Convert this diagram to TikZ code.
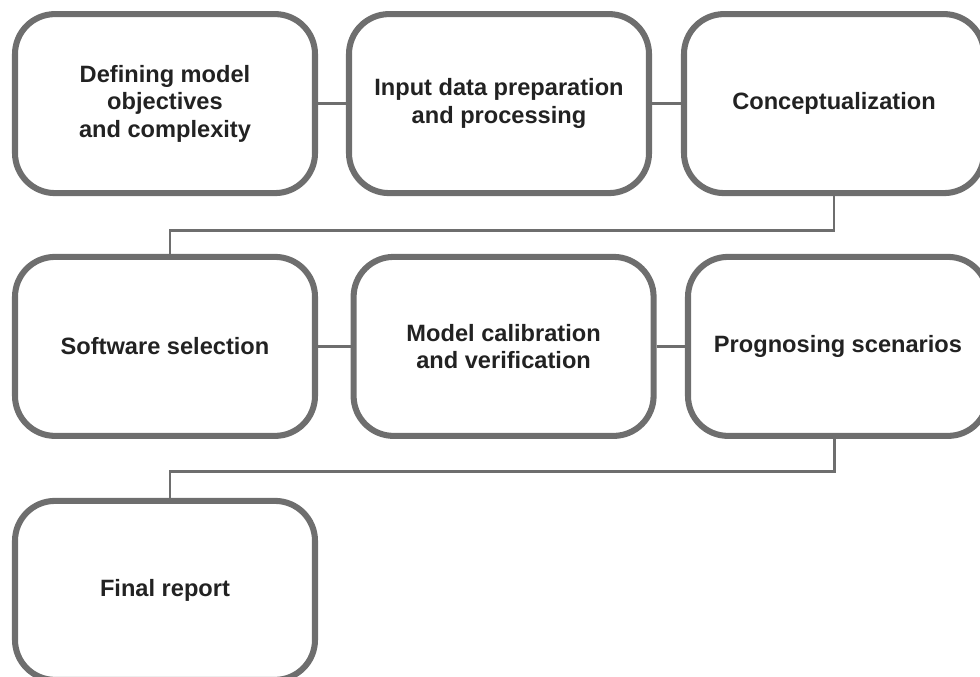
\documentclass[tikz,border=0pt]{standalone}
\usepackage{fontspec}
\setmainfont{Liberation Sans}
\usepackage{tikz}
\usetikzlibrary{
  positioning,
  calc
}
\usepackage{xcolor}
\definecolor{frame}{HTML}{6E6E6E}
\definecolor{ink}{HTML}{222222}

\begin{document}
\begin{tikzpicture}[
  stage/.style={draw=frame, line width=4.3pt, rounded corners=1cm,
                minimum width=7.5cm, minimum height=4.475cm, align=center,
                text=ink, font=\fontsize{16.8}{19.5}\selectfont\bfseries},
  link/.style={draw=frame, line width=2pt}
]
  \useasboundingbox (0,0) rectangle (24.5,-16.925);

  % first row
  \node[stage] (objectives) at (4.125, -2.59) {Defining model\\objectives\\and complexity};
  \node[stage] (inputdata) at (12.475, -2.59) {Input data preparation\\and processing};
  \node[stage] (concept) at (20.85, -2.59) {Conceptualization};

  % second row
  \node[stage] (software) at (4.125, -8.66) {Software selection};
  \node[stage] (calibration) at (12.59, -8.66) {Model calibration\\and verification};
  \node[stage] (prognosis) at (20.95, -8.66) {Prognosing scenarios};

  % third row
  \node[stage] (report) at (4.125, -14.76) {Final report};

  \draw[link] (objectives) -- (inputdata);
  \draw[link] (inputdata) -- (concept);
  \draw[link] (concept.south) -- ++(0,-0.85) -| ([xshift=0.125cm]software.north);

  \draw[link] (software) -- (calibration);
  \draw[link] (calibration) -- (prognosis);
  \draw[link] ([xshift=-0.08cm]prognosis.south) -- ++(0,-0.82) -| ([xshift=0.125cm]report.north);
\end{tikzpicture}
\end{document}
